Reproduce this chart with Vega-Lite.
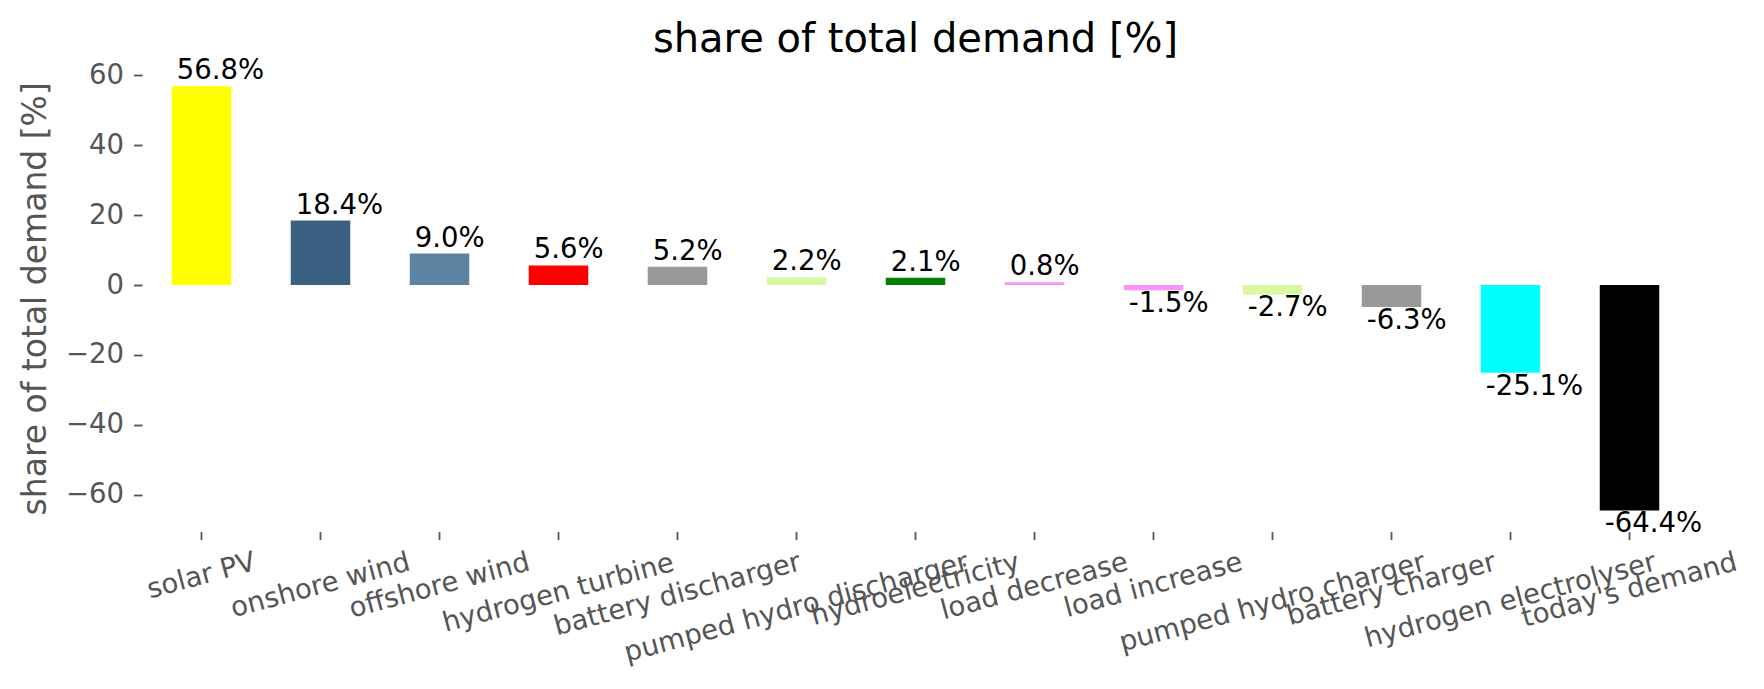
{
  "$schema": "https://vega.github.io/schema/vega-lite/v6.json",
  "width": 1547,
  "height": 466.6,
  "autosize": {"type": "none"},
  "padding": {"left": 142, "top": 65, "right": 75, "bottom": 157.4},
  "background": "white",
  "title": {
    "text": "share of total demand [%]",
    "fontSize": 40,
    "fontWeight": "normal",
    "color": "#000000",
    "anchor": "middle",
    "frame": "group",
    "baseline": "alphabetic",
    "offset": 13,
    "dy": 48
  },
  "config": {
    "font": "DejaVu Sans",
    "view": {"stroke": null},
    "axis": {"grid": false, "domain": false}
  },
  "data": {
    "values": [
      {"technology": "solar PV", "share": 56.8, "label": "56.8%"},
      {"technology": "onshore wind", "share": 18.4, "label": "18.4%"},
      {"technology": "offshore wind", "share": 9.0, "label": "9.0%"},
      {"technology": "hydrogen turbine", "share": 5.6, "label": "5.6%"},
      {"technology": "battery discharger", "share": 5.2, "label": "5.2%"},
      {"technology": "pumped hydro discharger", "share": 2.2, "label": "2.2%"},
      {"technology": "hydroelectricity", "share": 2.1, "label": "2.1%"},
      {"technology": "load decrease", "share": 0.8, "label": "0.8%"},
      {"technology": "load increase", "share": -1.5, "label": "-1.5%"},
      {"technology": "pumped hydro charger", "share": -2.7, "label": "-2.7%"},
      {"technology": "battery charger", "share": -6.3, "label": "-6.3%"},
      {"technology": "hydrogen electrolyser", "share": -25.1, "label": "-25.1%"},
      {"technology": "today's demand", "share": -64.4, "label": "-64.4%"}
    ]
  },
  "encoding": {
    "x": {
      "field": "technology",
      "type": "nominal",
      "sort": null,
      "scale": {"paddingInner": 0.5, "paddingOuter": 0.25},
      "axis": {
        "title": null,
        "labelAngle": -15,
        "labelAlign": "center",
        "labelBaseline": "middle",
        "labelFontSize": 27.5,
        "labelColor": "#555555",
        "labelLimit": 0,
        "labelOverlap": false,
        "labelBound": false,
        "labelFlush": false,
        "tickSize": 8,
        "tickColor": "#555555",
        "tickWidth": 1.8,
        "labelPadding": {
          "condition": [
            {"test": "datum.value === 'solar PV'", "value": 36.2},
            {"test": "datum.value === 'onshore wind'", "value": 45.7},
            {"test": "datum.value === 'offshore wind'", "value": 46.0},
            {"test": "datum.value === 'hydrogen turbine'", "value": 53.3},
            {"test": "datum.value === 'battery discharger'", "value": 54.8},
            {"test": "datum.value === 'pumped hydro discharger'", "value": 67.9},
            {"test": "datum.value === 'hydroelectricity'", "value": 49.7},
            {"test": "datum.value === 'load decrease'", "value": 46.8},
            {"test": "datum.value === 'load increase'", "value": 45.6},
            {"test": "datum.value === 'pumped hydro charger'", "value": 62.8},
            {"test": "datum.value === 'battery charger'", "value": 49.7},
            {"test": "datum.value === 'hydrogen electrolyser'", "value": 60.8}
          ],
          "value": 50.5
        }
      }
    },
    "y": {
      "field": "share",
      "type": "quantitative",
      "scale": {"domain": [-70.46, 62.86], "nice": false},
      "axis": {
        "values": [-60, -40, -20, 0, 20, 40, 60],
        "title": "share of total demand [%]",
        "titleFontSize": 33,
        "titleFontWeight": "normal",
        "titleColor": "#555555",
        "titleX": -107,
        "titleY": 233.3,
        "titleAngle": -90,
        "titleAlign": "center",
        "titleBaseline": "middle",
        "labelFontSize": 27.5,
        "labelColor": "#555555",
        "labelPadding": 10,
        "tickSize": 8.5,
        "tickColor": "#555555",
        "tickWidth": 1.8,
        "labelExpr": "replace(datum.label, '-', '\u2212')"
      }
    }
  },
  "layer": [
    {
      "mark": {"type": "bar"},
      "encoding": {
        "color": {
          "field": "technology",
          "type": "nominal",
          "legend": null,
          "scale": {
            "domain": ["solar PV", "onshore wind", "offshore wind", "hydrogen turbine", "battery discharger", "pumped hydro discharger", "hydroelectricity", "load decrease", "load increase", "pumped hydro charger", "battery charger", "hydrogen electrolyser", "today's demand"],
            "range": ["#ffff00", "#3b6182", "#5d83a3", "#ff0000", "#999999", "#d9f8a2", "#008000", "#f794f7", "#f794f7", "#d9f8a2", "#999999", "#00ffff", "#000000"]
          }
        }
      }
    },
    {
      "transform": [{"filter": "datum.share >= 0"}],
      "mark": {"type": "text", "align": "left", "baseline": "alphabetic", "dx": -24.75, "dy": -7, "fontSize": 27.5, "color": "#000000"},
      "encoding": {
        "text": {"field": "label", "type": "nominal"}
      }
    },
    {
      "transform": [{"filter": "datum.share < 0"}],
      "mark": {"type": "text", "align": "left", "baseline": "top", "dx": -24.75, "dy": 0, "fontSize": 27.5, "color": "#000000"},
      "encoding": {
        "text": {"field": "label", "type": "nominal"}
      }
    }
  ]
}
